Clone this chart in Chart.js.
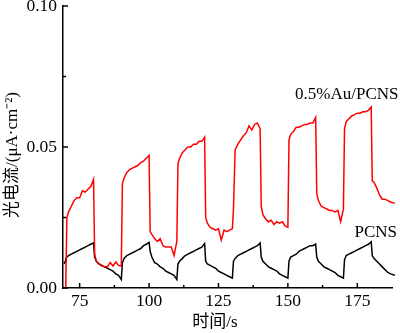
<!DOCTYPE html>
<html>
<head>
<meta charset="utf-8">
<script src="https://cdn.jsdelivr.net/npm/chart.js@4"></script>
<style>
  html, body { margin: 0; padding: 0; background: #fff; }
  #wrap { width: 400px; height: 333px; }
</style>
</head>
<body>
<div id="wrap"><canvas id="chart" width="400" height="333"></canvas></div>
<script>
'use strict';

// ─── Data ─────────────────────────────────────────────────────────────────────

const times = [
  69.4, 69.8, 70, 70.4, 71, 72, 73, 74, 75, 76, 77, 78, 79,
  80, 80.4, 81, 82, 83, 84, 85, 86, 87, 88, 89,
  90, 90.4, 91, 92, 93, 94, 95, 96, 97, 98, 99,
  100, 100.4, 101, 102, 103, 104, 105, 106, 107, 108, 109,
  110, 110.4, 111, 112, 113, 114, 115, 116, 117, 118, 119,
  120, 120.4, 121, 122, 123, 124, 125, 126, 127, 128, 129,
  130, 130.4, 131, 132, 133, 134, 135, 136, 137, 138, 139,
  140, 140.4, 141, 142, 143, 144, 145, 146, 147, 148, 149,
  150, 150.4, 151, 152, 153, 154, 155, 156, 157, 158, 159,
  160, 160.4, 161, 162, 163, 164, 165, 166, 167, 168, 169,
  170, 170.4, 171, 172, 173, 174, 175, 176, 177, 178, 179,
  180, 180.4, 181, 182, 183, 184, 185, 186, 187, 188.5,
];

const currentAu = [
  null, 0, 0.001, 0.025, 0.027, 0.029, 0.031, 0.032, 0.032, 0.0345, 0.034, 0.035, 0.036,
  0.0385, 0.012, 0.0095, 0.0085, 0.0078, 0.0075, 0.0075, 0.009, 0.0078, 0.0092, 0.008,
  0.0078, 0.037, 0.039, 0.041, 0.042, 0.0425, 0.043, 0.0435, 0.0445, 0.045, 0.046,
  0.047, 0.020, 0.019, 0.0175, 0.0165, 0.0175, 0.015, 0.0145, 0.0145, 0.0145, 0.0115,
  0.0165, 0.044, 0.046, 0.048, 0.049, 0.050, 0.050, 0.051, 0.051, 0.052, 0.052,
  0.0535, 0.025, 0.023, 0.0215, 0.021, 0.0205, 0.021, 0.017, 0.0205, 0.020, 0.0205,
  0.021, 0.028, 0.049, 0.051, 0.0525, 0.054, 0.055, 0.0575, 0.056, 0.058, 0.0585,
  0.0565, 0.029, 0.026, 0.0245, 0.0235, 0.024, 0.0225, 0.0235, 0.023, 0.0235, 0.022,
  0.0215, 0.0525, 0.0545, 0.0555, 0.057, 0.057, 0.0575, 0.058, 0.058, 0.0585, 0.0585,
  0.0605, 0.0335, 0.031, 0.029, 0.0285, 0.028, 0.0275, 0.0275, 0.027, 0.0275, 0.0235,
  0.028, 0.0565, 0.059, 0.060, 0.061, 0.0615, 0.062, 0.062, 0.0625, 0.0625, 0.063,
  0.0642, 0.038, 0.0375, 0.0355, 0.033, 0.0315, 0.0315, 0.031, 0.0305, 0.030,
];

const currentPCNS = [
  0.0085, 0.0095, 0.0105, 0.011, 0.0115, 0.012, 0.0125, 0.013, 0.0135, 0.014, 0.0145, 0.015, 0.0155,
  0.016, 0.011, 0.0095, 0.0085, 0.008, 0.0075, 0.007, 0.0065, 0.006, 0.005, 0.0045,
  0.003, 0.009, 0.0105, 0.0115, 0.012, 0.0125, 0.013, 0.0135, 0.014, 0.015, 0.0155,
  0.0162, 0.013, 0.011, 0.009, 0.0085, 0.0075, 0.007, 0.006, 0.0055, 0.005, 0.0045,
  0.003, 0.0085, 0.0095, 0.0105, 0.0115, 0.012, 0.0125, 0.013, 0.0135, 0.014, 0.0145,
  0.0158, 0.0095, 0.0085, 0.008, 0.0075, 0.007, 0.006, 0.0055, 0.005, 0.0045, 0.004,
  0.0035, 0.0095, 0.0105, 0.0115, 0.012, 0.0125, 0.013, 0.0135, 0.014, 0.0145, 0.015,
  0.016, 0.011, 0.0095, 0.0085, 0.0075, 0.007, 0.0065, 0.006, 0.005, 0.0045, 0.004,
  0.0035, 0.0095, 0.011, 0.0115, 0.012, 0.013, 0.0135, 0.014, 0.0145, 0.015, 0.015,
  0.0156, 0.011, 0.0095, 0.0085, 0.0075, 0.007, 0.0065, 0.006, 0.0055, 0.0045, 0.004,
  0.0035, 0.010, 0.0115, 0.012, 0.0125, 0.013, 0.0135, 0.014, 0.0145, 0.015, 0.0155,
  0.0164, 0.0115, 0.0105, 0.0095, 0.0085, 0.0075, 0.0065, 0.0055, 0.005, 0.0045,
];

const xTicks = [75, 100, 125, 150, 175];
const xMinorTicks = [87.5, 112.5, 137.5, 162.5];
const yTicks = [0, 0.05, 0.10];
const yMinorTicks = [0.025, 0.075];

const seriesLabels = ['0.5%Au/PCNS', 'PCNS'];
const xTitle = '时间/s';
const yTitle = '光电流/(μA·cm⁻²)';

// ─── Helpers ──────────────────────────────────────────────────────────────────

const SERIF = '"Liberation Serif", "Noto Sans CJK SC", serif';
const toPoints = (ys) => times.map((t, i) => ({ x: t, y: ys[i] }));

// inward ticks, series labels and axis titles
const decorations = {
  id: 'decorations',
  afterDraw(chart) {
    const { ctx, chartArea: area, scales: { x, y } } = chart;
    ctx.save();
    ctx.strokeStyle = '#000';
    ctx.lineWidth = 1.5;

    const tickX = (v, len) => {
      const px = x.getPixelForValue(v);
      ctx.beginPath();
      ctx.moveTo(px, area.bottom);
      ctx.lineTo(px, area.bottom - len);
      ctx.stroke();
    };
    const tickY = (v, len) => {
      const py = y.getPixelForValue(v);
      ctx.beginPath();
      ctx.moveTo(area.left, py);
      ctx.lineTo(area.left + len, py);
      ctx.stroke();
    };
    xTicks.forEach(v => tickX(v, 5));
    xMinorTicks.forEach(v => tickX(v, 3));
    yTicks.forEach(v => tickY(v, 5));
    yMinorTicks.forEach(v => tickY(v, 3));

    ctx.fillStyle = '#000';
    ctx.font = '17px ' + SERIF;
    ctx.textAlign = 'right';
    ctx.textBaseline = 'alphabetic';
    ctx.fillText(seriesLabels[0], 398.5, 98.5);
    ctx.fillText(seriesLabels[1], 397, 236.5);

    ctx.textAlign = 'center';
    ctx.textBaseline = 'middle';
    ctx.fillText(xTitle, 215, 323);

    ctx.translate(13, 155);
    ctx.rotate(-Math.PI / 2);
    ctx.fillText(yTitle, 0, 0);
    ctx.restore();
  },
};

// ─── Chart ────────────────────────────────────────────────────────────────────

new Chart(document.getElementById('chart'), {
  type: 'line',
  data: {
    datasets: [
      {
        label: seriesLabels[0],
        data: toPoints(currentAu),
        borderColor: '#ff0000',
        borderWidth: 1.5,
        pointRadius: 0,
        clip: false,
      },
      {
        label: seriesLabels[1],
        data: toPoints(currentPCNS),
        borderColor: '#000000',
        borderWidth: 1.5,
        pointRadius: 0,
        clip: false,
      },
    ],
  },
  options: {
    responsive: false,
    animation: false,
    devicePixelRatio: 1,
    layout: { padding: { top: 6, right: 8, left: 0, bottom: 0 } },
    plugins: {
      legend: { display: false },
      tooltip: { enabled: false },
    },
    scales: {
      x: {
        type: 'linear',
        min: 69,
        max: 187.5,
        grid: { display: false, drawTicks: false, tickLength: 0 },
        border: { display: true, color: '#000', width: 1.5 },
        ticks: {
          color: '#000',
          font: { family: SERIF, size: 17.5 },
          padding: 3,
          maxRotation: 0,
          autoSkip: false,
        },
        afterBuildTicks: (s) => { s.ticks = xTicks.map(v => ({ value: v })); },
        afterFit: (s) => { s.height = 45; },
      },
      y: {
        min: 0,
        max: 0.1,
        grid: { display: false, drawTicks: false, tickLength: 0 },
        border: { display: true, color: '#000', width: 1.5 },
        ticks: {
          color: '#000',
          font: { family: SERIF, size: 17.5 },
          padding: 6,
          callback: (v) => v.toFixed(2),
        },
        afterBuildTicks: (s) => { s.ticks = yTicks.map(v => ({ value: v })); },
        afterFit: (s) => { s.width = 63; s.paddingTop = 0; s.paddingBottom = 0; },
      },
    },
  },
  plugins: [decorations],
});
</script>
</body>
</html>
